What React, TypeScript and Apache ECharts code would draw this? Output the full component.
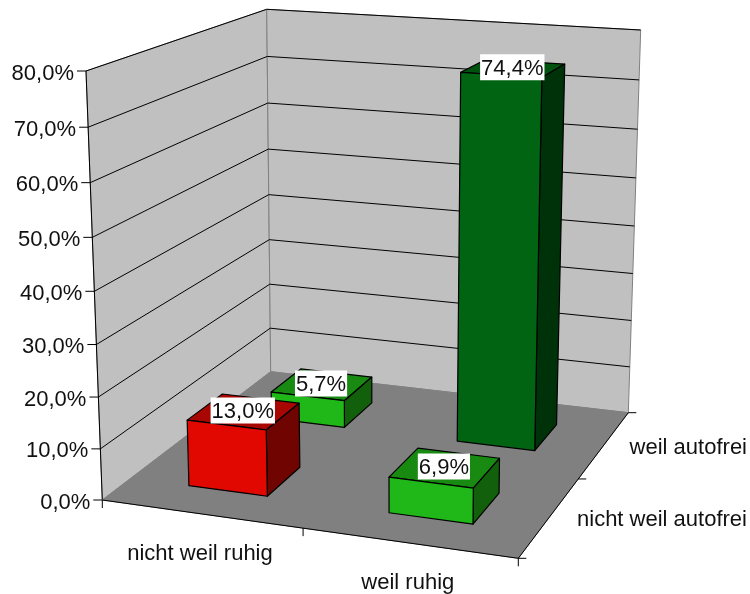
import React, { useEffect, useRef } from "react";
import * as echarts from "echarts";

const ruhigCategories = ["nicht weil ruhig", "weil ruhig"];
const autofreiCategories = ["nicht weil autofrei", "weil autofrei"];
const axisTicks = [0, 10, 20, 30, 40, 50, 60, 70, 80];
const axisTickLabels = ["0,0%", "10,0%", "20,0%", "30,0%", "40,0%", "50,0%", "60,0%", "70,0%", "80,0%"];
const nichtAutofreiValues = [13.0, 6.9];
const weilAutofreiValues = [5.7, 74.4];
const nichtAutofreiLabels = ["13,0%", "6,9%"];
const weilAutofreiLabels = ["5,7%", "74,4%"];

const FONT = "Liberation Sans";
const FS = 22;
const TEXT = "#111";

// projection frame: floor corners and wall tops (layout only)
const A = [102.3, 500], B = [518.3, 558.3], C = [628.3, 412.7], D = [270.7, 371.7];
const topA = [86, 71], topD = [266.7, 9.3], topC = [640.7, 30];

const makeProjection = () => {
  const dx1 = B[0] - C[0], dx2 = D[0] - C[0], sx = A[0] - B[0] + C[0] - D[0];
  const dy1 = B[1] - C[1], dy2 = D[1] - C[1], sy = A[1] - B[1] + C[1] - D[1];
  const det = dx1 * dy2 - dx2 * dy1;
  const g = (sx * dy2 - dx2 * sy) / det;
  const h = (dx1 * sy - sx * dy1) / det;
  const a = B[0] - A[0] + g * B[0], b = D[0] - A[0] + h * D[0], c = A[0];
  const d = B[1] - A[1] + g * B[1], e = D[1] - A[1] + h * D[1], f = A[1];
  const base = (u: number, v: number) => [a * u + b * v + c, d * u + e * v + f, g * u + h * v + 1];
  const rows: number[][] = [];
  const rhs: number[] = [];
  ([[0, 0, topA], [0, 1, topD], [1, 1, topC]] as any[]).forEach(([u, v, t]) => {
    const n = base(u, v);
    rows.push([1, 0, -t[0]]); rhs.push(t[0] * n[2] - n[0]);
    rows.push([0, 1, -t[1]]); rhs.push(t[1] * n[2] - n[1]);
  });
  const M = [0, 1, 2].map((i) => {
    const row = [0, 1, 2].map((j) => rows.reduce((s, r) => s + r[i] * r[j], 0));
    row.push(rows.reduce((s, r, k) => s + r[i] * rhs[k], 0));
    return row;
  });
  for (let i = 0; i < 3; i++) {
    let p = i;
    for (let k = i + 1; k < 3; k++) if (Math.abs(M[k][i]) > Math.abs(M[p][i])) p = k;
    [M[i], M[p]] = [M[p], M[i]];
    for (let k = 0; k < 3; k++) {
      if (k === i) continue;
      const m = M[k][i] / M[i][i];
      for (let j = i; j < 4; j++) M[k][j] -= m * M[i][j];
    }
  }
  const k = [M[0][3] / M[0][0], M[1][3] / M[1][1], M[2][3] / M[2][2]];
  const raw = (u: number, v: number, w: number) => {
    const n = base(u, v);
    const den = n[2] + k[2] * w;
    return [(n[0] + k[0] * w) / den, (n[1] + k[1] * w) / den];
  };
  // small correction so that the three wall-top corners land exactly
  const rA = [topA[0] - raw(0, 0, 1)[0], topA[1] - raw(0, 0, 1)[1]];
  const rD = [topD[0] - raw(0, 1, 1)[0], topD[1] - raw(0, 1, 1)[1]];
  const rC = [topC[0] - raw(1, 1, 1)[0], topC[1] - raw(1, 1, 1)[1]];
  return (u: number, v: number, w: number) => {
    const p = raw(u, v, w);
    return [0, 1].map((i) => p[i] + w * (rA[i] + u * (rC[i] - rD[i]) + v * (rD[i] - rA[i])));
  };
};
const project = makeProjection();

const line = (p: number[], q: number[], stroke = "#000", lineWidth = 1) => ({
  type: "line",
  shape: { x1: p[0], y1: p[1], x2: q[0], y2: q[1] },
  style: { stroke, lineWidth },
});
const poly = (points: number[][], fill: string, stroke = "#000", lineWidth = 1.2) => ({
  type: "polygon",
  shape: { points },
  style: { fill, stroke, lineWidth, lineJoin: "round" },
});
const label = (x: number, y: number, text: string, align = "center", extra: any = {}) => ({
  type: "text",
  x,
  y,
  style: { text, x: 0, y: 0, fill: TEXT, fontFamily: FONT, fontSize: FS, align, verticalAlign: "middle", ...extra },
});

const palette: Record<string, string[]> = {
  red: ["#E00800", "#A80600", "#700400"],
  light: ["#20B818", "#188A12", "#125F0C"],
  dark: ["#006412", "#00530F", "#003209"],
};
const colorOf = (x: number, d: number) => (d === 0 && x === 0 ? "red" : d === 1 && x === 1 ? "dark" : "light");

const cell = (params: any, api: any, cat: number, val: number) => {
  const cs = params.coordSys;
  const p = api.coord([cat, val]);
  return [(p[0] - cs.x) / cs.width, 1 - (p[1] - cs.y) / cs.height];
};

export default function App() {
  const ref = useRef<HTMLDivElement>(null);
  useEffect(() => {
    const chart = echarts.init(ref.current!, undefined, { renderer: "svg" });
    const barData = [
      ...weilAutofreiValues.map((value, x) => [x, 1, value, weilAutofreiLabels[x]]),
      ...nichtAutofreiValues.map((value, x) => [x, 0, value, nichtAutofreiLabels[x]]),
    ];
    const box = (params: any, api: any) => {
      const x = api.value(0), d = api.value(1);
      const [uc, w] = cell(params, api, x, api.value(2));
      const band = api.size([1, 0])[0] / params.coordSys.width;
      const su = band * 0.2;
      const sv = su;
      const vc = (d + 0.5) / autofreiCategories.length;
      return { uc, vc, su, sv, w };
    };
    chart.setOption({
      animation: false,
      grid: { left: 0, top: 0, width: 750, height: 594 },
      xAxis: { type: "category", data: ruhigCategories, show: false },
      yAxis: { type: "value", min: 0, max: 80, interval: 10, show: false },
      series: [
        {
          type: "custom",
          coordinateSystem: "cartesian2d",
          silent: true,
          clip: false,
          z: 1,
          data: axisTicks.map((t, i) => [0, t, i]),
          encode: { x: 0, y: 1 },
          renderItem: (params: any, api: any) => {
            const val = api.value(1);
            const i = api.value(2);
            const [, w] = cell(params, api, 0, val);
            const a = project(0, 0, w), b = project(0, 1, w), c = project(1, 1, w);
            const children: any[] = [];
            if (i === 0) {
              children.push(
                poly([project(0, 0, 0), project(0, 1, 0), project(0, 1, 1), project(0, 0, 1)], "#C0C0C0", "#808080", 1),
                poly([project(0, 1, 0), project(1, 1, 0), project(1, 1, 1), project(0, 1, 1)], "#C0C0C0", "#808080", 1),
                line(project(0, 0, 0), project(0, 0, 1), "#000")
              );
            }
            if (i > 0) children.push(line(a, b), line(b, c));
            children.push(line([a[0] - 9, a[1]], a));
            children.push(label(a[0] - 12, a[1] + 1, axisTickLabels[i], "right"));
            return { type: "group", children };
          },
        },
        {
          type: "custom",
          coordinateSystem: "cartesian2d",
          silent: true,
          clip: false,
          z: 2,
          data: [[0, 0]],
          encode: { x: 0, y: 1 },
          renderItem: () => {
            const a = project(0, 0, 0), b = project(1, 0, 0), c = project(1, 1, 0), d = project(0, 1, 0);
            const children: any[] = [poly([a, b, c, d], "#808080", "#808080", 1), line(a, b), line(b, c)];
            [0, 0.5, 1].forEach((u) => {
              const p = project(u, 0, 0);
              children.push(line(p, [p[0], p[1] + 8]));
            });
            [0, 0.5, 1].forEach((v) => {
              const p = project(1, v, 0);
              children.push(line(p, [p[0] + 8, p[1]]));
            });
            return { type: "group", children };
          },
        },
        {
          type: "custom",
          coordinateSystem: "cartesian2d",
          silent: true,
          clip: false,
          z: 3,
          data: ruhigCategories.map((name, x) => [x, 0, name]),
          encode: { x: 0, y: 1 },
          renderItem: (params: any, api: any) => {
            const x = api.value(0);
            const [u] = cell(params, api, x, 0);
            const p = project(u, 0, 0);
            return label(p[0] - 1, p[1] + 39, ruhigCategories[x]);
          },
        },
        {
          type: "custom",
          coordinateSystem: "cartesian2d",
          silent: true,
          clip: false,
          z: 3,
          data: autofreiCategories.map((name, d) => [0, d, name]),
          encode: { x: 0, y: 1 },
          renderItem: (params: any, api: any) => {
            const d = api.value(1);
            const v = (d + 0.5) / autofreiCategories.length;
            const p = project(1, v, 0);
            return label(747, p[1] + 2, autofreiCategories[d], "right");
          },
        },
        {
          type: "custom",
          coordinateSystem: "cartesian2d",
          silent: true,
          clip: false,
          z: 4,
          data: barData,
          encode: { x: 0, y: 2 },
          renderItem: (params: any, api: any) => {
            const { uc, vc, su, sv, w } = box(params, api);
            const col = palette[colorOf(api.value(0), api.value(1))];
            const P = (du: number, dv: number, h: number) => project(uc + du * su, vc + dv * sv, h);
            return {
              type: "group",
              children: [
                poly([P(-1, -1, w), P(1, -1, w), P(1, 1, w), P(-1, 1, w)], col[1]),
                poly([P(1, -1, 0), P(1, 1, 0), P(1, 1, w), P(1, -1, w)], col[2]),
                poly([P(-1, -1, 0), P(1, -1, 0), P(1, -1, w), P(-1, -1, w)], col[0]),
              ],
            };
          },
        },
        {
          type: "custom",
          coordinateSystem: "cartesian2d",
          silent: true,
          clip: false,
          z: 5,
          data: barData,
          encode: { x: 0, y: 2 },
          renderItem: (params: any, api: any) => {
            const { uc, vc, w } = box(params, api);
            const p = project(uc, vc, w);
            const text = barData[params.dataIndex][3] as string;
            return label(p[0] - 1, p[1] - 1, text, "center", { backgroundColor: "#fff", padding: [3, 1, 1, 1] });
          },
        },
      ],
    });
    return () => chart.dispose();
  }, []);
  return <div ref={ref} style={{ position: "fixed", left: 0, top: 0, width: 750, height: 594 }} />;
}
